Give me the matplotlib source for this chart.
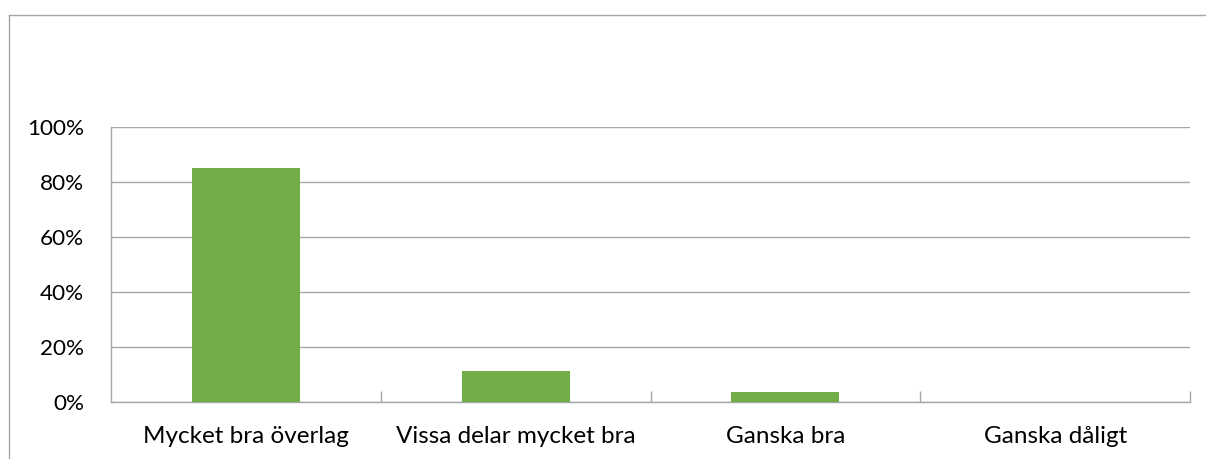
import matplotlib.pyplot as plt
from matplotlib.lines import Line2D
from matplotlib.ticker import FuncFormatter, FixedLocator

kategorier = ["Mycket bra överlag", "Vissa delar mycket bra", "Ganska bra", "Ganska dåligt"]
andelar = [0.852, 0.111, 0.037, 0.0]
y_ticks = [0, 0.2, 0.4, 0.6, 0.8, 1.0]

W, H = 1206, 459
fig = plt.figure(figsize=(W / 100, H / 100), dpi=100)
plt.rcParams['font.family'] = ['Lato', 'DejaVu Sans']

# plot area in pixels (from the reference)
x0, x1, y0, y1 = 111, 1190, 127, 402
ax = fig.add_axes([x0 / W, 1 - y1 / H, (x1 - x0) / W, (y1 - y0) / H])

grid_col = '#A6A6A6'
pos = range(len(kategorier))
ax.bar(pos, andelar, width=0.4, color='#70AD47', zorder=3)

ax.set_xlim(-0.5, len(kategorier) - 0.5)
ax.set_ylim(0, 1)
ax.set_yticks(y_ticks)
ax.yaxis.set_major_formatter(FuncFormatter(lambda v, p: f"{v * 100:.0f}%"))
ax.grid(axis='y', color=grid_col, linewidth=1.0, zorder=0)

ax.set_xticks(list(pos))
ax.set_xticklabels(kategorier)
ax.xaxis.set_minor_locator(FixedLocator([i + 0.5 for i in range(len(kategorier))]))
ax.tick_params(axis='x', which='major', length=0, pad=17, labelsize=17.5, colors='black')
ax.tick_params(axis='x', which='minor', length=8, width=1, direction='in', color=grid_col)
ax.tick_params(axis='y', length=0, pad=19.5, labelsize=16.2)

for s in ['top', 'right']:
    ax.spines[s].set_visible(False)
for s in ['left', 'bottom']:
    ax.spines[s].set_color(grid_col)
    ax.spines[s].set_linewidth(1.0)

# outer chart frame (cut off at right and bottom)
fig.add_artist(Line2D([8.5 / W, 1], [1 - 14.5 / H, 1 - 14.5 / H], color=grid_col, lw=1.0))
fig.add_artist(Line2D([8.5 / W, 8.5 / W], [0, 1 - 14.5 / H], color=grid_col, lw=1.0))

fig.savefig('out.png', dpi=100)
